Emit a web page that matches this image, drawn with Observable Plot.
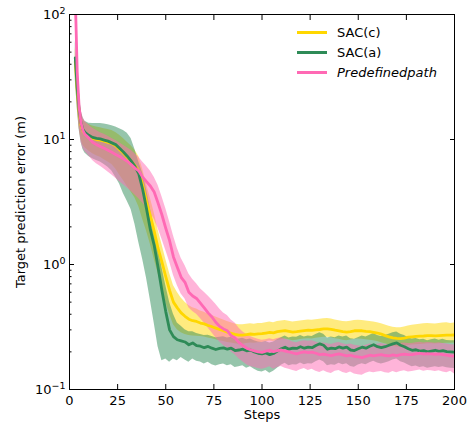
<!DOCTYPE html>
<html><head><meta charset="utf-8">
<script src="https://cdn.jsdelivr.net/npm/d3@7"></script>
<script src="https://cdn.jsdelivr.net/npm/@observablehq/plot@0.6"></script>
<style>
html,body{margin:0;padding:0;background:#fff;}
#wrap{position:relative;width:471px;height:426px;font-family:"DejaVu Sans",sans-serif;}
.row{position:absolute;left:297px;height:20px;white-space:nowrap;display:flex;align-items:center;font-size:13px;color:#000;}
.sw{display:inline-block;width:30px;height:3px;margin-right:10px;}
</style></head><body><div id="wrap"></div>
<script>
const steps = [3,4,5,6,7,8,
10,12,14,16,18,20,22,24,26,28,
30,32,34,36,38,40,42,44,46,48,
50,52,54,56,58,60,62,64,66,68,
70,72,74,76,78,80,82,84,86,88,
90,92,94,96,98,100,102,104,106,108,
110,112,114,116,118,120,122,124,126,128,
130,132,134,136,138,140,142,144,146,148,
150,152,154,156,158,160,162,164,166,168,
170,172,174,176,178,180,182,184,186,188,
190,192,194,196,198,200];

const seriesNames = ["SAC(c)", "SAC(a)", "Predefinedpath"];
const seriesColors = ["#FFD700", "#2E8B57", "#FF69B4"];

// SAC(c)
const sacC = [42,25,16.5,13,11.6,11.1,
10.6,10.2,10.0,9.9,9.7,9.5,9.3,8.9,8.3,7.8,
7.2,6.7,6.2,5.6,4.3,3.2,2.45,1.85,1.35,1.05,
0.8,0.62,0.5,0.45,0.41,0.385,0.365,0.355,0.35,0.34,
0.335,0.325,0.318,0.31,0.302,0.295,0.288,0.282,0.276,0.272,
0.272,0.275,0.278,0.276,0.279,0.28,0.283,0.286,0.284,0.29,
0.293,0.296,0.292,0.288,0.29,0.293,0.296,0.298,0.297,0.3,
0.302,0.305,0.306,0.303,0.298,0.294,0.29,0.288,0.291,0.295,
0.296,0.295,0.292,0.29,0.287,0.283,0.277,0.27,0.264,0.259,
0.256,0.255,0.258,0.262,0.264,0.266,0.267,0.268,0.27,0.27,
0.269,0.27,0.271,0.272,0.272,0.273];
const sacCHi = [55,33,21,16.5,14.5,13.8,
13.2,12.8,12.6,12.4,12.2,12,11.8,11.4,10.8,10.2,
9.5,8.9,8.2,7.3,5.8,4.4,3.4,2.6,1.9,1.45,
1.1,0.85,0.68,0.6,0.54,0.5,0.47,0.45,0.44,0.425,
0.415,0.4,0.39,0.38,0.37,0.36,0.35,0.342,0.334,0.33,
0.33,0.332,0.336,0.333,0.337,0.338,0.342,0.346,0.342,0.35,
0.354,0.357,0.352,0.347,0.35,0.354,0.357,0.36,0.358,0.362,
0.365,0.368,0.37,0.366,0.36,0.355,0.35,0.348,0.352,0.356,
0.358,0.357,0.353,0.35,0.347,0.342,0.336,0.328,0.321,0.315,
0.312,0.312,0.316,0.322,0.326,0.33,0.333,0.335,0.338,0.336,
0.334,0.337,0.34,0.342,0.338,0.34];
const sacCLo = [32,18,12.5,10,9,8.6,
8.1,7.7,7.4,7.2,6.9,6.6,6.3,5.8,5.2,4.7,
4.2,3.8,3.4,2.9,2.3,1.85,1.45,1.1,0.85,0.65,
0.5,0.4,0.33,0.3,0.285,0.275,0.27,0.268,0.267,0.265,
0.263,0.258,0.255,0.25,0.246,0.242,0.238,0.235,0.232,0.23,
0.23,0.233,0.236,0.234,0.237,0.238,0.241,0.244,0.242,0.247,
0.25,0.253,0.25,0.246,0.248,0.251,0.253,0.255,0.254,0.257,
0.259,0.262,0.262,0.259,0.255,0.252,0.248,0.246,0.249,0.252,
0.253,0.252,0.25,0.248,0.245,0.242,0.237,0.232,0.227,0.222,
0.219,0.218,0.221,0.225,0.227,0.228,0.229,0.23,0.232,0.232,
0.231,0.232,0.233,0.234,0.234,0.235];

// SAC(a)
const sacA = [45,26,17,13.5,12,11.4,
10.8,10.4,10.2,10.1,9.9,9.7,9.4,9.1,8.5,7.95,
7.35,6.75,6.1,5.3,4.0,2.8,1.9,1.42,0.95,0.62,
0.42,0.3,0.265,0.25,0.245,0.24,0.228,0.236,0.224,0.222,
0.216,0.221,0.214,0.209,0.213,0.215,0.21,0.214,0.205,0.207,
0.21,0.204,0.207,0.2,0.195,0.193,0.196,0.19,0.194,0.203,
0.212,0.218,0.21,0.214,0.213,0.22,0.214,0.218,0.216,0.225,
0.232,0.226,0.21,0.214,0.212,0.219,0.214,0.218,0.207,0.205,
0.212,0.218,0.214,0.222,0.228,0.22,0.216,0.22,0.226,0.232,
0.236,0.226,0.22,0.212,0.206,0.208,0.203,0.205,0.2,0.203,
0.206,0.202,0.205,0.201,0.2,0.199];
const sacAHi = [62,35,22,17,15,14,
13.5,13.4,13.4,13.4,13.3,13.1,12.9,12.6,12.2,11.8,
11.2,10.2,8.3,6.6,5.4,4.0,2.8,2.0,1.4,0.95,
0.68,0.5,0.4,0.34,0.32,0.3,0.29,0.29,0.28,0.275,
0.27,0.272,0.265,0.26,0.262,0.264,0.258,0.262,0.252,0.254,
0.257,0.25,0.254,0.246,0.24,0.238,0.242,0.236,0.24,0.25,
0.26,0.268,0.258,0.263,0.262,0.27,0.263,0.268,0.266,0.276,
0.284,0.277,0.258,0.263,0.26,0.268,0.263,0.268,0.255,0.252,
0.26,0.268,0.263,0.272,0.28,0.27,0.265,0.27,0.277,0.284,
0.289,0.277,0.27,0.26,0.253,0.256,0.25,0.252,0.246,0.25,
0.253,0.248,0.252,0.247,0.246,0.245];
const sacALo = [30,18,12,9.5,8.3,7.8,
7.3,7.0,6.8,6.6,6.3,6.0,5.6,5.0,4.4,3.7,
3.2,2.75,2.1,1.5,1.1,0.78,0.52,0.34,0.22,0.17,
0.175,0.165,0.175,0.17,0.18,0.172,0.165,0.175,0.168,0.166,
0.16,0.165,0.158,0.154,0.158,0.16,0.155,0.158,0.15,0.152,
0.155,0.148,0.152,0.145,0.14,0.138,0.142,0.135,0.14,0.148,
0.156,0.162,0.155,0.158,0.157,0.163,0.158,0.161,0.16,0.167,
0.172,0.167,0.155,0.158,0.156,0.162,0.158,0.161,0.153,0.151,
0.157,0.161,0.158,0.164,0.168,0.163,0.16,0.163,0.167,0.172,
0.175,0.167,0.163,0.157,0.152,0.154,0.15,0.152,0.148,0.15,
0.152,0.15,0.152,0.149,0.148,0.147];

// Predefinedpath
const pre = [140,35,18,13.5,11.8,11.0,
10.3,9.5,9.1,8.8,8.5,8.2,7.9,7.6,7.3,7.0,
6.7,6.3,5.9,5.6,5.0,4.6,4.25,3.8,3.1,2.5,
1.95,1.55,1.15,0.95,0.79,0.72,0.6,0.56,0.535,0.49,
0.45,0.41,0.38,0.345,0.32,0.305,0.295,0.27,0.258,0.238,
0.225,0.214,0.208,0.204,0.2,0.198,0.203,0.206,0.201,0.205,
0.207,0.203,0.2,0.196,0.193,0.197,0.2,0.197,0.199,0.195,
0.19,0.192,0.189,0.187,0.19,0.193,0.189,0.186,0.188,0.184,
0.182,0.18,0.184,0.188,0.186,0.188,0.19,0.187,0.186,0.189,
0.187,0.19,0.192,0.19,0.19,0.193,0.195,0.192,0.194,0.193,
0.191,0.193,0.19,0.188,0.186,0.185];
const preHi = [170,50,25,17.5,15,14,
13,12.3,11.8,11.3,11,10.6,10.2,9.8,9.4,9.0,
8.6,8.2,7.7,7.2,6.6,6.1,5.6,5.0,4.3,3.5,
2.8,2.2,1.7,1.35,1.12,0.98,0.84,0.76,0.7,0.64,
0.6,0.56,0.52,0.48,0.44,0.41,0.39,0.36,0.34,0.31,
0.29,0.275,0.265,0.258,0.252,0.248,0.25,0.255,0.25,0.256,
0.26,0.252,0.248,0.24,0.237,0.242,0.246,0.243,0.245,0.24,
0.233,0.236,0.232,0.229,0.234,0.238,0.232,0.228,0.231,0.226,
0.224,0.221,0.226,0.231,0.228,0.23,0.233,0.229,0.228,0.232,
0.229,0.233,0.236,0.233,0.233,0.237,0.239,0.236,0.238,0.237,
0.234,0.237,0.233,0.231,0.228,0.227];
const preLo = [100,20,12.5,9.5,8.5,8.0,
7.4,6.8,6.4,6.1,5.8,5.5,5.2,4.9,4.6,4.35,
4.1,3.85,3.6,3.35,3.1,2.85,2.6,2.3,1.95,1.6,
1.3,1.05,0.82,0.68,0.58,0.53,0.45,0.42,0.4,0.37,
0.34,0.31,0.285,0.26,0.24,0.225,0.215,0.2,0.19,0.176,
0.167,0.158,0.153,0.15,0.147,0.145,0.148,0.152,0.145,0.15,
0.153,0.148,0.145,0.142,0.139,0.144,0.147,0.142,0.145,0.14,
0.137,0.141,0.137,0.134,0.14,0.142,0.137,0.134,0.138,0.133,
0.131,0.13,0.135,0.138,0.136,0.138,0.139,0.136,0.135,0.139,
0.136,0.139,0.141,0.138,0.139,0.141,0.143,0.14,0.142,0.141,
0.139,0.141,0.138,0.136,0.14,0.133];

const xTicks = [0,25,50,75,100,125,150,175,200];
const yTicks = [0.1,1,10,100];
const yTickExp = ["\u22121","0","1","2"];
const yMinor = [0.2,0.3,0.4,0.5,0.6,0.7,0.8,0.9,2,3,4,5,6,7,8,9,20,30,40,50,60,70,80,90];
const xLabel = "Steps";
const yLabel = "Target prediction error (m)";

function rows(mean, lo, hi) {
  return steps.map((s, i) => ({step: s, mean: mean[i], lo: lo[i], hi: hi[i]}));
}
const series = [
  {name: seriesNames[0], color: seriesColors[0], data: rows(sacC, sacCLo, sacCHi)},
  {name: seriesNames[1], color: seriesColors[1], data: rows(sacA, sacALo, sacAHi)},
  {name: seriesNames[2], color: seriesColors[2], data: rows(pre, preLo, preHi)}
];

const marks = [];
for (const s of series) {
  marks.push(Plot.areaY(s.data, {x: "step", y1: "lo", y2: "hi", fill: s.color, fillOpacity: 0.5, clip: true}));
}
for (const s of series) {
  marks.push(Plot.lineY(s.data, {x: "step", y: "mean", stroke: s.color, strokeWidth: 2.8, clip: true}));
}
marks.push(
  Plot.axisX({anchor: "bottom", ticks: xTicks, tickSize: -5, tickPadding: 11, label: null, tickFormat: d => String(d)}),
  Plot.axisX({anchor: "top", ticks: xTicks, tickSize: -5, tickFormat: () => "", label: null}),
  Plot.axisY({anchor: "left", ticks: yTicks, tickSize: -5, tickPadding: 9, label: null,
    tickFormat: d => "10^" + yTickExp[yTicks.indexOf(d)]}),
  Plot.axisY({anchor: "left", ticks: yMinor, tickSize: -2.5, tickFormat: () => "", label: null}),
  Plot.axisY({anchor: "right", ticks: yTicks, tickSize: -5, tickFormat: () => "", label: null}),
  Plot.frame({stroke: "#000", strokeWidth: 1}),
  Plot.text([xLabel], {frameAnchor: "bottom", dy: 29, fontSize: 13, textAnchor: "middle"}),
  Plot.text([yLabel], {frameAnchor: "left", dx: -49, rotate: -90, fontSize: 13, textAnchor: "middle"})
);

const chart = Plot.plot({
  width: 471, height: 426,
  marginLeft: 69, marginRight: 17, marginTop: 14, marginBottom: 37,
  style: {fontFamily: '"DejaVu Sans", sans-serif', fontSize: "13px", color: "#000", background: "#fff", overflow: "visible"},
  x: {domain: [0, 200]},
  y: {type: "log", domain: [0.1, 100]},
  marks
});

const NS = "http://www.w3.org/2000/svg";
chart.querySelectorAll('[aria-label="y-axis tick label"] text').forEach(t => {
  const s = t.textContent;
  if (!s.includes("^")) return;
  const [base, exp] = s.split("^");
  t.textContent = "";
  const a = document.createElementNS(NS, "tspan");
  a.textContent = base;
  const b = document.createElementNS(NS, "tspan");
  b.textContent = exp;
  b.setAttribute("dy", "-5");
  b.setAttribute("font-size", "9.5");
  t.append(a, b);
});

const wrap = document.getElementById("wrap");
wrap.appendChild(chart);

series.forEach((s, i) => {
  const row = document.createElement("div");
  row.className = "row";
  row.style.top = (22 + i * 20) + "px";
  const sw = document.createElement("span");
  sw.className = "sw";
  sw.style.background = s.color;
  const tx = document.createElement("span");
  tx.textContent = s.name;
  if (i === 2) tx.style.fontStyle = "italic";
  row.append(sw, tx);
  wrap.appendChild(row);
});
</script></body></html>
